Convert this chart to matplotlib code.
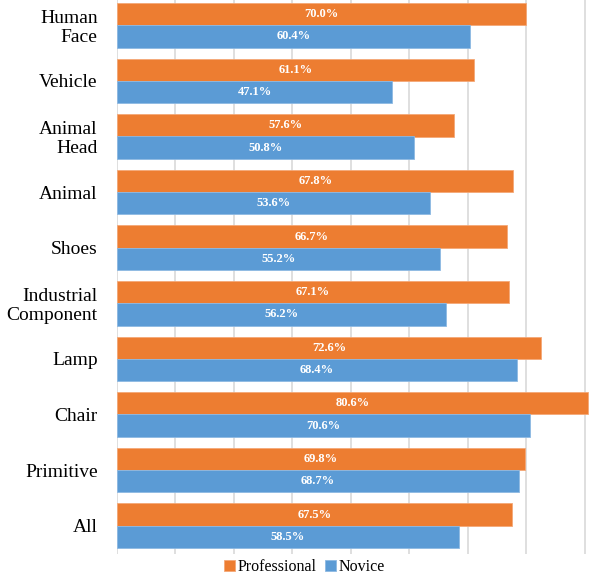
import matplotlib.pyplot as plt
import numpy as np

serif = "Liberation Serif"
plt.rcParams['font.family'] = 'serif'
plt.rcParams['font.serif'] = [serif, 'DejaVu Serif']

categories = ["Human\nFace", "Vehicle", "Animal\nHead", "Animal", "Shoes",
              "Industrial\nComponent", "Lamp", "Chair", "Primitive", "All"]
professional = [70.0, 61.1, 57.6, 67.8, 66.7, 67.1, 72.6, 80.6, 69.8, 67.5]
novice = [60.4, 47.1, 50.8, 53.6, 55.2, 56.2, 68.4, 70.6, 68.7, 58.5]

orange = "#ED7D31"
blue = "#5B9BD5"

fig = plt.figure(figsize=(5.9, 5.82), dpi=100)
ax = fig.add_axes([117 / 590, 1 - 553.5 / 582, 1 - 117 / 590, 556 / 582])

y = np.arange(len(categories))
h = 0.4
b1 = ax.barh(y - h / 2, professional, height=h, color=orange,
             edgecolor="#F4A877", linewidth=0.6, label="Professional", zorder=3)
b2 = ax.barh(y + h / 2, novice, height=h, color=blue,
             edgecolor="#8DB9E3", linewidth=0.6, label="Novice", zorder=3)

for bars, vals in ((b1, professional), (b2, novice)):
    for bar, v in zip(bars, vals):
        ax.text(v / 2, bar.get_y() + bar.get_height() / 2, f"{v:.1f}%",
                ha="center", va="center", color="white", fontsize=9,
                fontweight="bold", family=serif, zorder=4)

ax.set_ylim(len(categories) - 0.5, -0.5)
ax.set_xlim(0, 80.9)
ax.set_xticks(np.arange(0, 81, 10))
ax.set_xticklabels([])
ax.tick_params(axis="x", length=0)
ax.tick_params(axis="y", length=0, pad=14)
ax.set_yticks(y)
ax.set_yticklabels(categories, fontsize=14, linespacing=1.12, family=serif)
ax.grid(axis="x", color="#D9D9D9", linewidth=1.2, zorder=0)
for s in ax.spines.values():
    s.set_visible(False)

fig.legend(handles=[b1, b2], loc="center", bbox_to_anchor=(0.516, 0.026),
           ncol=2, frameon=False, prop={"family": serif, "size": 11.5},
           handlelength=0.7, handleheight=0.7, handletextpad=0.15,
           columnspacing=0.5, borderpad=0)

fig.savefig("out.png", dpi=100)
